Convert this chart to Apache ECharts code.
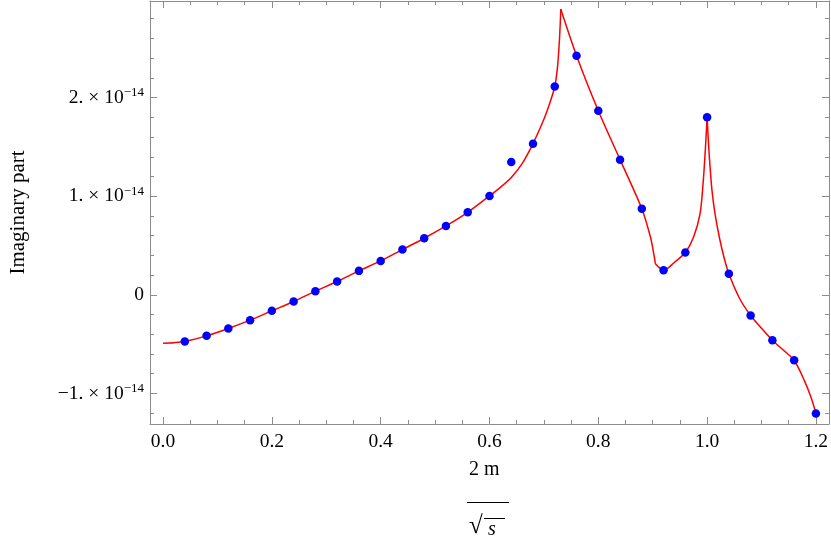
<!DOCTYPE html>
<html>
<head>
<meta charset="utf-8">
<script src="https://cdn.jsdelivr.net/npm/echarts@6/dist/echarts.min.js"></script>
<style>
html,body{margin:0;padding:0;background:#fff;}
#c{width:831px;height:545px;}
</style>
</head>
<body>
<div id="c"></div>
<script>
// y values are in units of 1e-14
const pointX = [0.04,0.08,0.12,0.16,0.20,0.24,0.28,0.32,0.36,0.40,0.44,0.48,0.52,0.56,0.60,0.64,0.68,0.72,0.76,0.80,0.84,0.88,0.92,0.96,1.00,1.04,1.08,1.12,1.16,1.20];
const pointY = [-0.473,-0.416,-0.341,-0.257,-0.162,-0.068,0.037,0.135,0.243,0.344,0.459,0.574,0.699,0.837,1.003,1.347,1.533,2.113,2.425,1.867,1.371,0.874,0.249,0.429,1.80,0.213,-0.21,-0.46,-0.663,-1.203];

// curve pieces, split at the cusps (x = 0.731, 0.905, 1.000)
const curveX1 = [0.00,0.02,0.04,0.08,0.12,0.16,0.20,0.24,0.28,0.32,0.36,0.40,0.44,0.48,0.52,0.56,0.60,0.62,0.64,0.66,0.68,0.70,0.71,0.72,0.725,0.7285,0.7303,0.731];
const curveY1 = [-0.49,-0.485,-0.473,-0.416,-0.341,-0.257,-0.162,-0.068,0.037,0.135,0.243,0.344,0.459,0.574,0.699,0.837,1.003,1.09,1.19,1.33,1.533,1.78,1.93,2.113,2.31,2.577,2.78,2.898];
const curveX2 = [0.731,0.76,0.80,0.84,0.88,0.896,0.902,0.905];
const curveY2 = [2.898,2.425,1.867,1.371,0.874,0.584,0.415,0.314];
const curveX3 = [0.905,0.92,0.94,0.96,0.975,0.987,0.993,0.997,1.000];
const curveY3 = [0.314,0.249,0.33,0.429,0.584,0.82,1.158,1.496,1.80];
const curveX4 = [1.000,1.003,1.0055,1.009,1.0146,1.0225,1.031,1.04,1.06,1.08,1.10,1.12,1.14,1.16,1.1786,1.1908,1.20];
const curveY4 = [1.80,1.496,1.293,1.057,0.82,0.584,0.381,0.213,-0.04,-0.21,-0.34,-0.46,-0.56,-0.663,-0.868,-1.037,-1.203];

const xTicks = [0.0,0.2,0.4,0.6,0.8,1.0,1.2];
const xTickLabels = ['0.0','0.2','0.4','0.6','0.8','1.0','1.2'];
const yTicks = [-1,0,1,2];
const yTickMant = ['\u22121.','0','1.','2.'];
const yExp = '\u221214';

const xMinor = []; for (let i = 0; i <= 24; i++) xMinor.push(Math.round(i*5)/100);
const yMinor = []; for (let i = -6; i <= 14; i++) yMinor.push(Math.round(i*20)/100);

const X_MIN = -0.024, X_MAX = 1.224, Y_MIN = -1.31, Y_MAX = 2.98;
const FONT = '"Liberation Serif", "DejaVu Serif", serif';
const GRAY = '#8c8c8c';
const FS = 19.5;

function xAxisDef(pos, vals, len, showLabel, showLine) {
  return {
    type:'value', position:pos, min:X_MIN, max:X_MAX,
    splitLine:{show:false},
    axisLine:{show:showLine, onZero:false, lineStyle:{color:GRAY, width:1}},
    axisTick:{show:true, inside:true, length:len, customValues:vals, lineStyle:{color:GRAY, width:1}},
    axisLabel:{show:showLabel, customValues:vals, margin:8, color:'#000', fontFamily:FONT, fontSize:FS,
      formatter:(v)=>{const i=xTicks.findIndex(t=>Math.abs(t-v)<1e-9); return i>=0?xTickLabels[i]:'';}}
  };
}
function yAxisDef(pos, vals, len, showLabel, showLine) {
  return {
    type:'value', position:pos, min:Y_MIN, max:Y_MAX,
    splitLine:{show:false},
    axisLine:{show:showLine, onZero:false, lineStyle:{color:GRAY, width:1}},
    axisTick:{show:true, inside:true, length:len, customValues:vals, lineStyle:{color:GRAY, width:1}},
    axisLabel:{show:showLabel, customValues:vals, margin:6, color:'#000', fontFamily:FONT, fontSize:FS,
      formatter:(v)=>{const i=yTicks.findIndex(t=>Math.abs(t-v)<1e-9); if(i<0) return ''; if(yTicks[i]===0) return '{m|0}'; return '{m|'+yTickMant[i]+' \u00d7 10}{e|'+yExp+'}';},
      rich:{ m:{fontFamily:FONT, fontSize:FS, color:'#000'}, e:{fontFamily:FONT, fontSize:13, color:'#000', padding:[0,0,10,0]} }}
  };
}
function curve(xs, ys) {
  return { type:'line', xAxisIndex:0, yAxisIndex:0, data:xs.map((x,i)=>[x,ys[i]]),
    showSymbol:false, smooth:0.3, lineStyle:{color:'#ff0000', width:1.5}, z:2 };
}

const chart = echarts.init(document.getElementById('c'), null, {renderer:'canvas'});
chart.setOption({
  animation:false,
  backgroundColor:'#fff',
  grid:{left:145, right:1, top:1, bottom:121, containLabel:false},
  xAxis:[
    xAxisDef('bottom', xTicks, 7, true, true),
    xAxisDef('bottom', xMinor, 4, false, false),
    xAxisDef('top', xTicks, 7, false, true),
    xAxisDef('top', xMinor, 4, false, false)
  ],
  yAxis:[
    Object.assign(yAxisDef('left', yTicks, 7, true, true), {
      name:'Imaginary part', nameLocation:'middle', nameGap:121, nameRotate:90,
      nameTextStyle:{fontFamily:FONT, fontSize:21, color:'#000'}
    }),
    yAxisDef('left', yMinor, 4, false, false),
    yAxisDef('right', yTicks, 7, false, true),
    yAxisDef('right', yMinor, 4, false, false)
  ],
  series:[
    curve(curveX1, curveY1),
    curve(curveX2, curveY2),
    curve(curveX3, curveY3),
    curve(curveX4, curveY4),
    { type:'scatter', xAxisIndex:0, yAxisIndex:0, data:pointX.map((x,i)=>[x,pointY[i]]),
      symbol:'circle', symbolSize:8.5, itemStyle:{color:'#0000ff', opacity:1}, z:3 }
  ],
  graphic:[
    { type:'text', left:469, top:460, style:{text:'2 m', font:'20px '+FONT, fill:'#000'} },
    { type:'line', shape:{x1:467, y1:502.5, x2:509, y2:502.5}, style:{stroke:'#000', lineWidth:1} },
    { type:'text', left:469, top:514, style:{text:'\u221a', font:'25px '+FONT, fill:'#000'} },
    { type:'line', shape:{x1:484, y1:518.5, x2:505, y2:518.5}, style:{stroke:'#000', lineWidth:1} },
    { type:'text', left:488, top:520, style:{text:'s', font:'italic 20px '+FONT, fill:'#000'} }
  ]
});
</script>
</body>
</html>
